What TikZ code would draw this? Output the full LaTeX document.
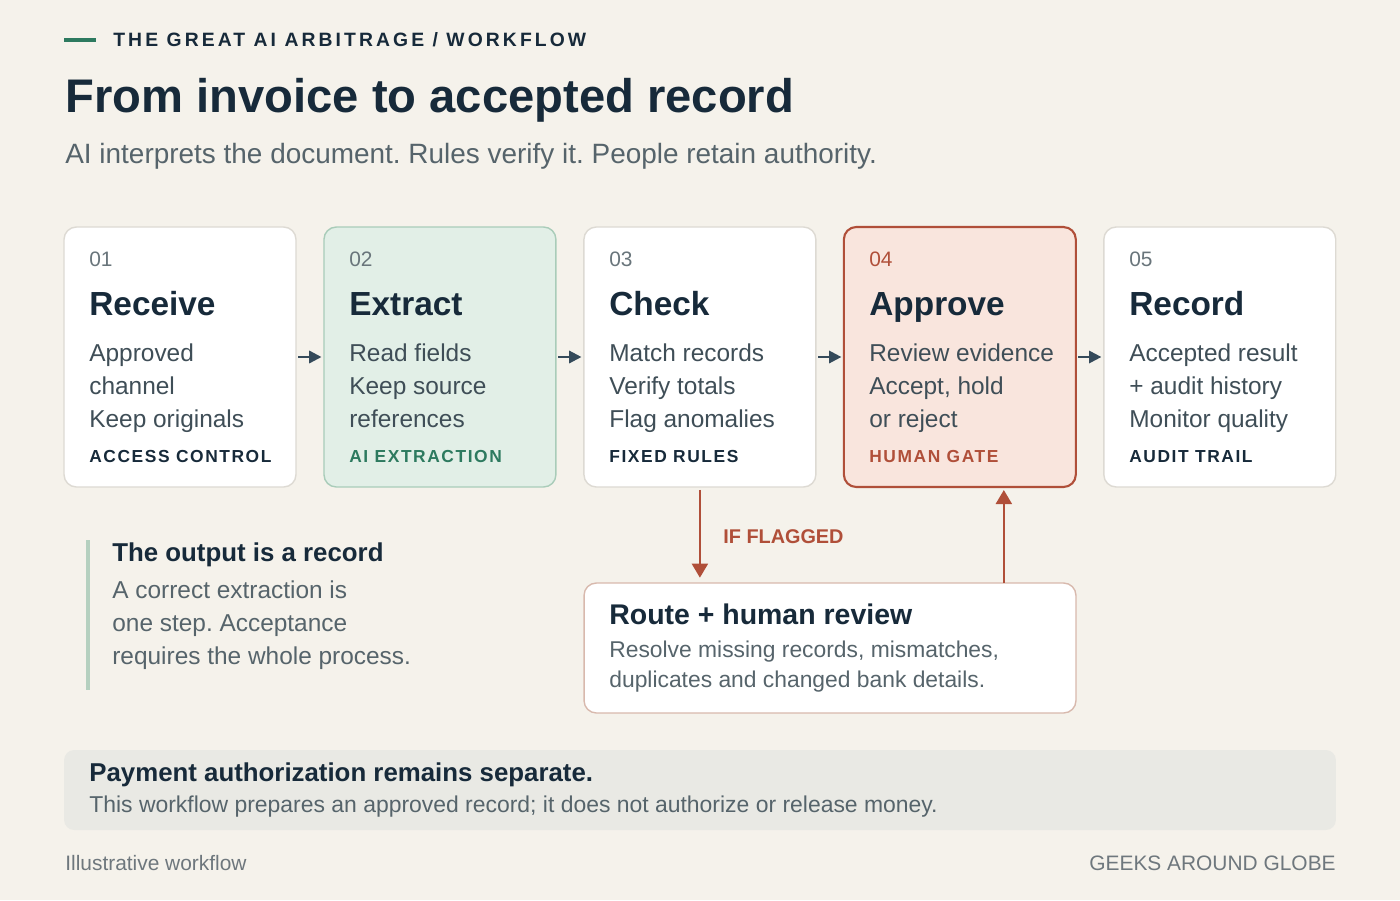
\documentclass[tikz,border=0pt]{standalone}
\usepackage{fontspec}
\setmainfont{Liberation Sans}
\newfontfamily\tagfont[LetterSpace=9]{Liberation Sans}
\newfontfamily\eyebrowfont[LetterSpace=16]{Liberation Sans}
\usetikzlibrary{positioning,arrows.meta}
\frenchspacing

\definecolor{paper}{HTML}{F5F2EB}
\definecolor{ink}{HTML}{172A3A}
\definecolor{slate}{HTML}{3F4E57}
\definecolor{muted}{HTML}{56646B}
\definecolor{numgray}{HTML}{69757B}
\definecolor{footgray}{HTML}{6E777D}
\definecolor{edge}{HTML}{DDDAD3}
\definecolor{aigreen}{HTML}{2D7A5F}
\definecolor{aifill}{HTML}{E2EFE7}
\definecolor{aiedge}{HTML}{A9CCB9}
\definecolor{rust}{HTML}{B04F39}
\definecolor{rustfill}{HTML}{F9E5DD}
\definecolor{rustedge}{HTML}{D8B9AD}
\definecolor{notebar}{HTML}{B5D0BF}
\definecolor{panel}{HTML}{E9E9E4}
\definecolor{arrowink}{HTML}{344A5A}

\begin{document}
\begin{tikzpicture}[
    x=0.02cm, y=-0.02cm,
    node distance=0.56cm,
    card/.style={rectangle, rounded corners=7pt, draw=edge, line width=0.8pt, fill=white, outer sep=0pt, minimum width=4.64cm, minimum height=5.2cm},
    txt/.style={anchor=base west, inner sep=0},
    num/.style={txt, text=numgray, font=\fontsize{11.9}{14}\selectfont},
    steptitle/.style={txt, text=ink, font=\fontsize{19}{22}\selectfont\bfseries},
    body/.style={txt, align=left, text=slate, font=\fontsize{13.9}{18.7}\selectfont},
    tag/.style={txt, text=ink, font=\tagfont\fontsize{9.9}{12}\selectfont\bfseries},
    arrow/.style={-{Triangle[length=7pt,width=7pt]}, line width=1.3pt, draw=arrowink, shorten <=1.4pt, shorten >=1.4pt},
    flag/.style={-{Triangle[length=8pt,width=9pt]}, line width=1.5pt, draw=rust}
]
    \useasboundingbox (0,0) rectangle (1400,900);
    \fill[paper] (0,0) rectangle (1400,900);

    % Header
    \draw[aigreen, line width=2.3pt] (64,40) -- (96,40);
    \node[txt, text=ink, font=\eyebrowfont\fontsize{11}{13}\selectfont\bfseries] (eyebrow) at (113,46) {THE GREAT AI ARBITRAGE / WORKFLOW};
    \node[txt, text=ink, font=\fontsize{26.85}{30}\selectfont\bfseries] (title) at (65,112) {From invoice to accepted record};
    \node[txt, text=muted, font=\fontsize{15.9}{18}\selectfont] (subtitle) at (65,163) {AI interprets the document. Rules verify it. People retain authority.};

    % Steps
    \node[card] (receive) at (180,357) {};
    \node[card, right=of receive, fill=aifill, draw=aiedge] (extract) {};
    \node[card, right=of extract] (check) {};
    \node[card, right=of check, fill=rustfill, draw=rust, line width=1.2pt] (approve) {};
    \node[card, right=of approve] (record) {};

    % body nodes sit on the baseline of their last line
    \node[num] (receive-num) at (89,266) {01};
    \node[steptitle] (receive-title) at (89,315) {Receive};
    \node[body] (receive-body) at (89,427) {Approved\\channel\\Keep originals};
    \node[tag] (receive-tag) at (89,462) {ACCESS CONTROL};

    \node[num] (extract-num) at (349,266) {02};
    \node[steptitle] (extract-title) at (349,315) {Extract};
    \node[body] (extract-body) at (349,427) {Read fields\\Keep source\\references};
    \node[tag, text=aigreen] (extract-tag) at (349,462) {AI EXTRACTION};

    \node[num] (check-num) at (609,266) {03};
    \node[steptitle] (check-title) at (609,315) {Check};
    \node[body] (check-body) at (609,427) {Match records\\Verify totals\\Flag anomalies};
    \node[tag] (check-tag) at (609,462) {FIXED RULES};

    \node[num, text=rust] (approve-num) at (869,266) {04};
    \node[steptitle] (approve-title) at (869,315) {Approve};
    \node[body] (approve-body) at (869,427) {Review evidence\\Accept, hold\\or reject};
    \node[tag, text=rust] (approve-tag) at (869,462) {HUMAN GATE};

    \node[num] (record-num) at (1129,266) {05};
    \node[steptitle] (record-title) at (1129,315) {Record};
    \node[body] (record-body) at (1129,427) {Accepted result\\+ audit history\\Monitor quality};
    \node[tag] (record-tag) at (1129,462) {AUDIT TRAIL};

    % Exception path
    \node[card, minimum width=9.84cm, minimum height=2.6cm, draw=rustedge] (review) at (830,648) {};
    \node[txt, text=ink, font=\fontsize{16.2}{19}\selectfont\bfseries] (review-title) at (609,624) {Route + human review};
    \node[txt, align=left, text=muted, font=\fontsize{13}{17}\selectfont] (review-body) at (609,687) {Resolve missing records, mismatches,\\duplicates and changed bank details.};
    \node[txt, text=rust, font=\fontsize{11.3}{13}\selectfont\bfseries] (flag-label) at (723,543) {IF FLAGGED};

    % Note
    \draw[notebar, line width=1.8pt] (88,540) -- (88,690);
    \node[txt, text=ink, font=\fontsize{14.7}{17}\selectfont\bfseries] (note-title) at (112,561) {The output is a record};
    \node[body, text=muted] (note-body) at (112,664) {A correct extraction is\\one step. Acceptance\\requires the whole process.};

    % Payment panel
    \node[rectangle, rounded corners=5.7pt, fill=panel, minimum width=25.44cm, minimum height=1.6cm] (payment) at (700,790) {};
    \node[txt, text=ink, font=\fontsize{14.7}{17}\selectfont\bfseries] (payment-title) at (89,781) {Payment authorization remains separate.};
    \node[txt, text=muted, font=\fontsize{13.05}{15}\selectfont] (payment-body) at (89,812) {This workflow prepares an approved record; it does not authorize or release money.};

    % Footer
    \node[txt, text=footgray, font=\fontsize{11.9}{14}\selectfont] (footer-left) at (65,870) {Illustrative workflow};
    \node[txt, anchor=base east, text=footgray, font=\fontsize{11.9}{14}\selectfont] (footer-right) at (1336,870) {GEEKS AROUND GLOBE};

    % Arrows
    \draw[arrow] (receive) -- (extract);
    \draw[arrow] (extract) -- (check);
    \draw[arrow] (check) -- (approve);
    \draw[arrow] (approve) -- (record);
    \draw[flag, shorten <=1.7pt, shorten >=3pt] (check.south) -- (check.south |- review.north);
    \draw[flag, shorten >=1.7pt] ([xshift=0.88cm]approve.south |- review.north) -- ([xshift=0.88cm]approve.south);
\end{tikzpicture}
\end{document}
